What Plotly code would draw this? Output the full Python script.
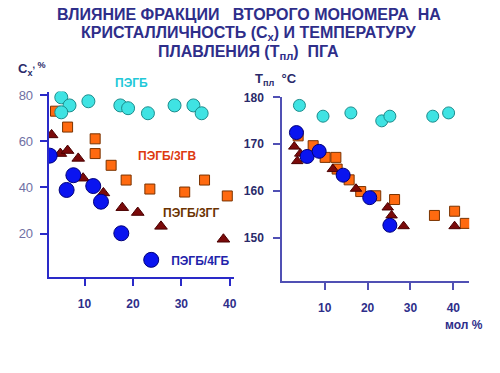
import plotly.graph_objects as go

# ---------------- data ----------------
# left panel: crystallinity Cx (%) vs comonomer fraction (mol %)
cx_pegb_x = [5.2, 6.9, 5.2, 10.8, 17.4, 19.0, 23.1, 28.6, 32.5, 34.2]
cx_pegb_y = [79.1, 75.6, 72.6, 77.4, 75.6, 74.4, 72.2, 75.6, 75.6, 72.2]
cx_3gv_x = [4.0, 6.5, 12.2, 12.2, 15.5, 18.6, 23.5, 30.7, 34.8, 39.5]
cx_3gv_y = [73.1, 66.2, 61.1, 54.7, 49.6, 43.2, 39.3, 38.0, 43.2, 36.3]
cx_3gg_x = [3.2, 5.0, 6.5, 8.7, 9.7, 13.9, 17.8, 21.0, 25.8, 38.7]
cx_3gg_y = [62.8, 54.7, 56.0, 52.6, 44.0, 37.6, 31.2, 29.1, 23.1, 17.5]
cx_4gb_x = [2.8, 7.7, 6.3, 11.8, 13.4, 17.6]
cx_4gb_y = [53.8, 45.3, 38.9, 40.6, 33.8, 20.1]

# right panel: melting temperature Tпл (°C) vs comonomer fraction (mol %)
tm_pegb_x = [4.1, 9.6, 16.1, 23.3, 25.2, 35.2, 38.9]
tm_pegb_y = [178.3, 176.0, 176.7, 175.0, 176.0, 176.0, 176.7]
tm_3gv_x = [3.8, 7.3, 10.1, 12.6, 12.9, 15.7, 18.4, 21.9, 26.3, 35.6, 40.3, 42.8]
tm_3gv_y = [171.8, 169.7, 167.2, 167.2, 164.7, 162.4, 159.9, 159.0, 158.2, 154.8, 155.7, 153.1]
tm_3gg_x = [2.9, 3.6, 4.3, 11.9, 17.3, 24.7, 25.6, 28.4, 40.3]
tm_3gg_y = [169.5, 166.4, 168.0, 164.7, 160.5, 156.5, 154.8, 152.5, 152.5]
tm_4gb_x = [3.4, 5.9, 8.7, 14.3, 20.5, 25.2]
tm_4gb_y = [172.5, 167.4, 168.5, 163.4, 158.6, 152.7]

x_ticks = [10, 20, 30, 40]
cx_ticks = [20, 40, 60, 80]
tm_ticks = [150, 160, 170, 180]

series_names = ["ПЭГБ", "ПЭГБ/3ГВ", "ПЭГБ/3ГГ", "ПЭГБ/4ГБ"]
title_lines = ["ВЛИЯНИЕ ФРАКЦИИ&nbsp;&nbsp; ВТОРОГО МОНОМЕРА&nbsp; НА",
               "КРИСТАЛЛИЧНОСТЬ (С<sub>х</sub>) И ТЕМПЕРАТУРУ",
               "ПЛАВЛЕНИЯ (Т<sub>пл</sub>)&nbsp; ПГА"]

FONT = "Liberation Sans, Arial, sans-serif"
NAVY = "#2e2e8a"

fig = go.Figure()

def add(x, y, xa, ya, name, symbol, size, fill, line, show=False):
    fig.add_trace(go.Scatter(
        x=x, y=y, xaxis=xa, yaxis=ya, mode="markers", name=name,
        legendgroup=name, showlegend=show,
        marker=dict(symbol=symbol, size=size, color=fill,
                    line=dict(color=line, width=1)),
        hoverinfo="x+y+name"))

# left panel
add(cx_3gv_x, cx_3gv_y, "x", "y", series_names[1], "square", 10, "#ff6a10", "#7a3300")
add(cx_3gg_x, cx_3gg_y, "x", "y", series_names[2], "triangle-up", 11, "#7a0a0a", "#4a0000")
add(cx_4gb_x, cx_4gb_y, "x", "y", series_names[3], "circle", 15, "#0a14f0", "#00007a", show=True)
add(cx_pegb_x, cx_pegb_y, "x", "y", series_names[0], "circle", 13, "#3fe3e3", "#1c8c8c")
# right panel
add(tm_3gv_x, tm_3gv_y, "x2", "y2", series_names[1], "square", 10, "#ff6a10", "#7a3300")
add(tm_3gg_x, tm_3gg_y, "x2", "y2", series_names[2], "triangle-up", 10, "#7a0a0a", "#4a0000")
add(tm_4gb_x, tm_4gb_y, "x2", "y2", series_names[3], "circle", 14, "#0a14f0", "#00007a")
add(tm_pegb_x, tm_pegb_y, "x2", "y2", series_names[0], "circle", 12, "#3fe3e3", "#1c8c8c")

W, H = 500, 373
def px_x(p):
    return p / W
def px_y(p):
    return 1 - p / H

axis_common = dict(showgrid=False, zeroline=False, ticks="outside", ticklen=7,
                   tickwidth=2, showline=True, linewidth=2, fixedrange=True)

fig.update_layout(
    width=W, height=H, margin=dict(l=0, r=0, t=0, b=0),
    paper_bgcolor="white", plot_bgcolor="white",
    font=dict(family=FONT),
    xaxis=dict(axis_common, domain=[px_x(49), px_x(235)], range=[2.6, 40.8],
               tickvals=x_ticks, linecolor="#2a2ac8", tickcolor="#2a2ac8",
               ticklabelstandoff=8,
               tickfont=dict(size=12, color=NAVY, family=FONT, weight="bold"),
               anchor="y"),
    yaxis=dict(axis_common, domain=[px_y(275), px_y(87)], range=[1.3, 81.6],
               tickvals=cx_ticks, linecolor="#2a2ac8", tickcolor="#2a2ac8",
               ticklabelstandoff=4,
               tickfont=dict(size=13, color="#7070a4", family=FONT),
               anchor="x"),
    xaxis2=dict(axis_common, domain=[px_x(284), px_x(472)], range=[0.1, 43.7],
                tickvals=x_ticks, linecolor="#5050b4", tickcolor="#5050b4",
                ticklabelstandoff=8,
                tickfont=dict(size=12, color=NAVY, family=FONT, weight="bold"),
                anchor="y2"),
    yaxis2=dict(axis_common, domain=[px_y(279), px_y(92)], range=[140.9, 180.2],
                tickvals=tm_ticks, linecolor="#5050b4", tickcolor="#5050b4",
                ticklabelstandoff=7,
                tickfont=dict(size=12, color="#2a2a6a", family=FONT, weight="bold"),
                anchor="x2"),
    legend=dict(x=px_x(132), y=px_y(258), xanchor="left", yanchor="middle",
                bgcolor="rgba(0,0,0,0)", borderwidth=0, itemsizing="trace",
                font=dict(size=12, color="#2222aa", family=FONT, weight="bold")),
    showlegend=True,
)

def note(text, x, y, color, size=12, xanchor="center", yanchor="middle", bold=True):
    t = f"<b>{text}</b>" if bold else text
    fig.add_annotation(text=t, x=px_x(x), y=px_y(y), xref="paper", yref="paper",
                       xanchor=xanchor, yanchor=yanchor, showarrow=False,
                       font=dict(size=size, color=color, family=FONT))

# title, one annotation per line
for line, yy in zip(title_lines, [9, 28, 47]):
    note(line, 250, yy, NAVY, size=16)

note(series_names[0], 132, 78, "#22c8d8", size=12)
note(series_names[1], 168, 152, "#dd3a10", size=12)
note(series_names[2], 192, 210, "#6a3300", size=12)
note("C<sub>x</sub><sup>, %</sup>", 16, 64, "#2a2a6a", size=13, xanchor="left")
note("Т<sub>пл</sub>&nbsp; °C", 255, 75, "#2a2a6a", size=13, xanchor="left")
note("мол %", 467, 324, NAVY, size=12)

fig.write_html("out.html", config={"displayModeBar": False},
               post_script="document.body.style.margin='0';")
